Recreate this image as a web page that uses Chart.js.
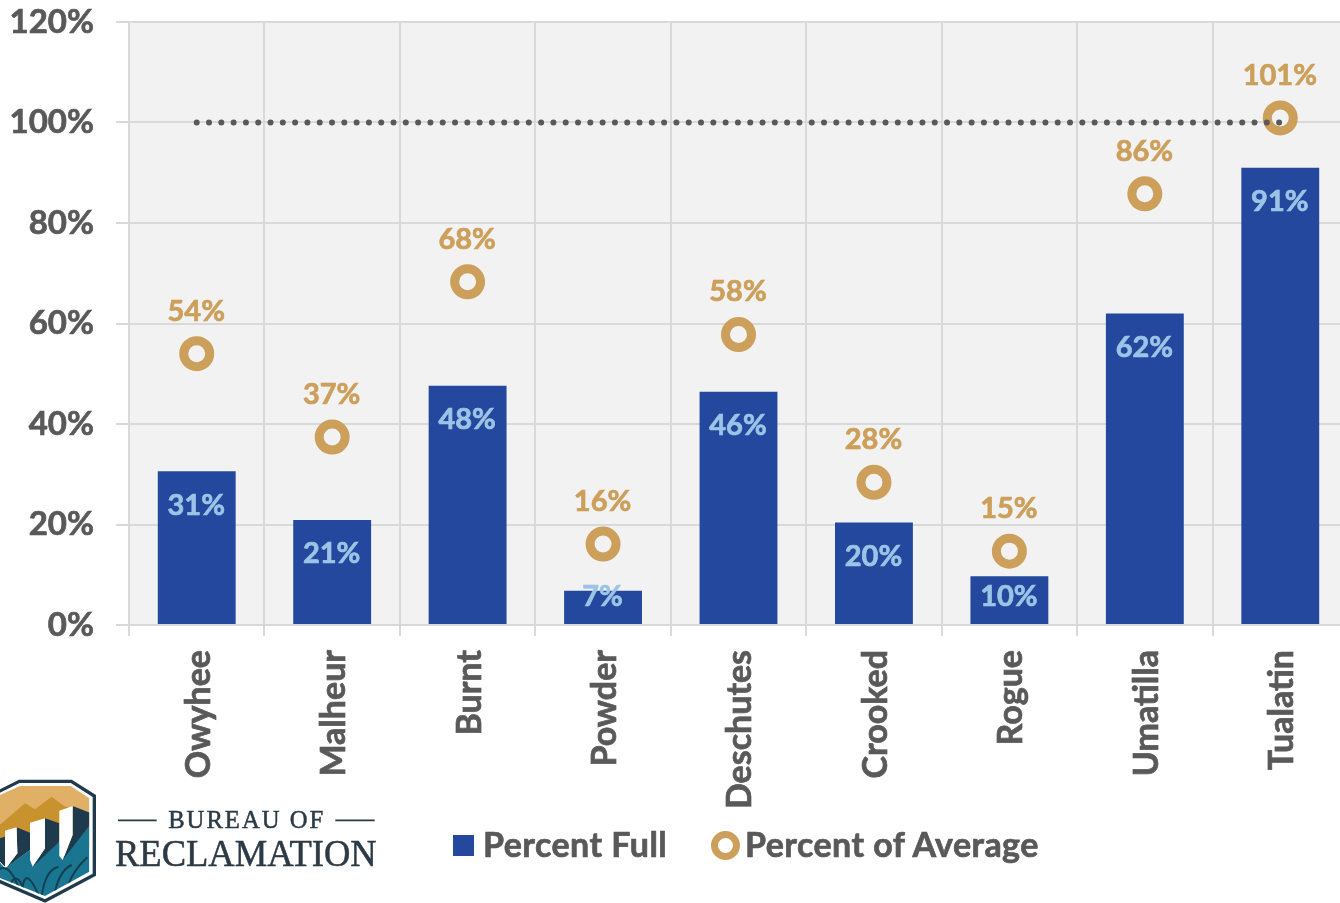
<!DOCTYPE html>
<html>
<head>
<meta charset="utf-8">
<script src="https://cdn.jsdelivr.net/npm/chart.js@4"></script>
<style>
  html, body { margin: 0; padding: 0; background: #fff; overflow: hidden; width: 1340px; height: 903px; }
  #chartWrap { position: absolute; left: 0; top: 0; width: 1400px; height: 903px; }
  #logo { position: absolute; left: 0; top: 770px; }
  .legend-item { position: absolute; top: 823px; height: 42px; line-height: 42px; font: bold 34px Lato, sans-serif; letter-spacing: 0.45px; -webkit-text-stroke: 0.7px #595959; color: #595959; white-space: nowrap; }
  .swatch { position: absolute; left: 453px; top: 835px; width: 21px; height: 21px; background: #23489d; }
  .ring { position: absolute; left: 711px; top: 831px; width: 15px; height: 15px; border: 7px solid #cc9f5a; border-radius: 50%; background: #fff; }
</style>
</head>
<body>
<div id="chartWrap"><canvas id="chart" width="1400" height="903"></canvas></div>

<svg id="logo" width="400" height="133" viewBox="0 0 1200 399">
  <defs>
    <clipPath id="shieldInner"><path d="M-30 88 L60 48 H212 L268 85 V305 L135 378 L-30 312 Z"/></clipPath>
  </defs>
  <path d="M-30 78 L58 34 H214 L283 78 V314 L135 393 L-30 322 Z" fill="#fff" stroke="#1f3a4d" stroke-width="10"/>
  <g clip-path="url(#shieldInner)">
    <rect x="-30" y="40" width="300" height="140" fill="#e0b067"/>
    <path d="M-30 190 L75 100 L105 118 L155 80 L192 108 L270 130 V230 H-30 Z" fill="#c8922f"/>
    <path d="M-30 245 L15 295 L90 240 L100 278 L178 215 L190 262 L270 165 V390 H-30 Z" fill="#1a7690"/>
    <path d="M0 205 L15 200 V290 L0 275 Z" fill="#1f3a4d"/>
    <path d="M50 172 L90 188 V240 L20 292 L52 250 Z" fill="#1f3a4d"/>
    <path d="M15 182 L50 172 L52 250 L20 292 L15 285 Z" fill="#fff"/>
    <path d="M135 145 L178 160 V215 L98 290 L135 235 Z" fill="#1f3a4d"/>
    <path d="M90 158 L135 145 V235 L98 290 L90 270 Z" fill="#fff"/>
    <path d="M218 108 L270 128 V165 L188 270 L218 195 Z" fill="#1f3a4d"/>
    <path d="M178 122 L218 108 V195 L188 270 L178 258 Z" fill="#fff"/>
    <path d="M-5 300 Q25 275 55 350 M30 345 Q50 300 72 360 M68 350 Q78 285 120 385 M125 380 Q135 300 175 290 M165 365 Q180 300 215 285 M205 345 Q220 300 262 262" fill="none" stroke="#123f52" stroke-width="6"/>
  </g>
  <g stroke="#2b3a45" stroke-width="5">
    <line x1="354" y1="151" x2="470" y2="151"/>
    <line x1="1006" y1="151" x2="1124" y2="151"/>
  </g>
  <text x="740" y="175" text-anchor="middle" font-family="'Liberation Serif', serif" font-size="74" stroke="#2b3a45" stroke-width="1.5" letter-spacing="6" fill="#2b3a45">BUREAU OF</text>
  <text x="345" y="289" font-family="'Liberation Serif', serif" font-size="112" stroke="#2b3a45" stroke-width="1.5" textLength="785" lengthAdjust="spacingAndGlyphs" fill="#2b3a45">RECLAMATION</text>
</svg>

<div class="swatch"></div>
<div class="legend-item" style="left:483px">Percent Full</div>
<div class="ring"></div>
<div class="legend-item" style="left:745px">Percent of Average</div>

<script>
// -------------------------------
// Data
// -------------------------------
const basins = ["Owyhee", "Malheur", "Burnt", "Powder", "Deschutes", "Crooked", "Rogue", "Umatilla", "Tualatin"];
const percentFull = [30.6, 20.9, 47.6, 6.8, 46.4, 20.4, 9.7, 62, 91];
const percentOfAverage = [54, 37.4, 68.3, 16.1, 57.8, 28.4, 14.7, 85.8, 100.9];
const averageLine = [100, 100, 100, 100, 100, 100, 100, 100, 100];

const BLUE = "#23489d";
const GOLD = "#cc9f5a";
const GREY = "#595959";
const GRID = "#d9d9d9";

// -------------------------------
// Plugins
// -------------------------------
const plotBackground = {
    id: "plotBackground",
    beforeDraw(chart) {
        const a = chart.chartArea;
        chart.ctx.fillStyle = "#f2f2f2";
        chart.ctx.fillRect(a.left, a.top, a.right - a.left, a.bottom - a.top);
    }
};

function drawLabel(ctx, text, x, y, color) {
    ctx.fillStyle = color;
    ctx.strokeStyle = color;
    ctx.lineWidth = 0.7;
    ctx.fillText(text, x, y);
    ctx.strokeText(text, x, y);
}

const valueLabels = {
    id: "valueLabels",
    afterDraw(chart) {
        const ctx = chart.ctx;
        const base = chart.scales.y.getPixelForValue(0);
        ctx.save();
        ctx.font = "bold 29px Lato, sans-serif";
        ctx.textAlign = "center";
        ctx.textBaseline = "middle";
        chart.getDatasetMeta(0).data.forEach((bar, i) => {
            drawLabel(ctx, Math.round(percentFull[i]) + "%", bar.x - 0.5, Math.min(bar.y + 34, base - 28), "#9dc3e6");
        });
        chart.getDatasetMeta(2).data.forEach((pt, i) => {
            drawLabel(ctx, Math.round(percentOfAverage[i]) + "%", pt.x - 0.5, pt.y - 42.5, GOLD);
        });
        ctx.restore();
    }
};

// -------------------------------
// Chart.js Setup
// -------------------------------
new Chart(document.getElementById("chart").getContext("2d"), {
    type: "bar",
    plugins: [plotBackground, valueLabels],
    data: {
        labels: basins,
        datasets: [
            {
                type: "bar",
                label: "Percent Full",
                data: percentFull,
                backgroundColor: BLUE,
                barPercentage: 0.575,
                categoryPercentage: 1,
                order: 3
            },
            {
                type: "line",
                label: "Average",
                data: averageLine,
                borderColor: GREY,
                borderWidth: 6,
                borderDash: [0, 12.3],
                borderCapStyle: "round",
                pointRadius: 0,
                order: 1
            },
            {
                type: "line",
                label: "Percent of Average",
                data: percentOfAverage,
                showLine: false,
                pointRadius: 13,
                pointBorderWidth: 9,
                pointBorderColor: GOLD,
                pointBackgroundColor: "#f2f2f2",
                order: 2
            }
        ]
    },
    options: {
        responsive: false,
        animation: false,
        layout: { padding: { top: 21, right: 52, left: 0, bottom: 0 } },
        plugins: {
            legend: { display: false },
            tooltip: { enabled: false }
        },
        scales: {
            x: {
                afterFit: s => { s.height = 278; },
                grid: { color: GRID, lineWidth: 2, tickLength: 11, tickColor: GRID, drawTicks: true },
                border: { color: GRID, width: 2 },
                ticks: {
                    color: GREY,
                    textStrokeColor: GREY,
                    textStrokeWidth: 0.7,
                    font: { family: "Lato, sans-serif", weight: "bold", size: 34 },
                    minRotation: 90,
                    maxRotation: 90,
                    padding: 14,
                    labelOffset: 2,
                    autoSkip: false
                }
            },
            y: {
                min: 0,
                max: 120,
                // label half-heights would otherwise push the plot area down
                afterFit: s => { s.width = 129; s.paddingTop = 0; s.paddingBottom = 0; },
                grid: { color: GRID, lineWidth: 2, tickLength: 13, tickColor: GRID },
                border: { color: GRID, width: 2 },
                ticks: {
                    stepSize: 20,
                    color: GREY,
                    textStrokeColor: GREY,
                    textStrokeWidth: 0.7,
                    font: { family: "Lato, sans-serif", weight: "bold", size: 33 },
                    padding: 22,
                    callback: v => v + "%"
                }
            }
        }
    }
});
</script>
</body>
</html>
